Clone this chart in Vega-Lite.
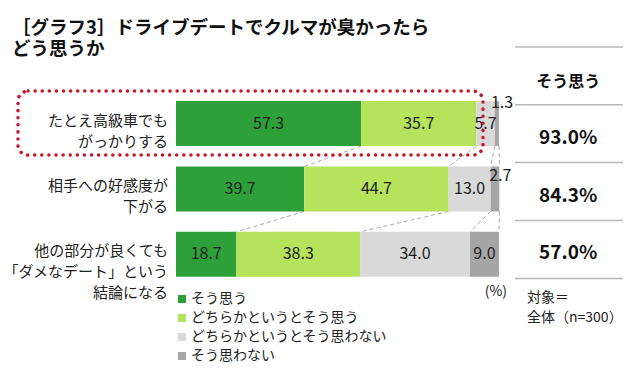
{
  "$schema": "https://vega.github.io/schema/vega-lite/v6.json",
  "width": 640,
  "height": 317,
  "autosize": "none",
  "padding": {"left": 0, "top": 60, "right": 0, "bottom": 0},
  "background": "white",
  "config": {"view": {"stroke": null}, "font": "Noto Sans CJK JP", "text": {"font": "Noto Sans CJK JP"}},
  "title": {
    "text": ["［グラフ3］ドライブデートでクルマが臭かったら", "どう思うか"],
    "anchor": "start", "frame": "group", "fontSize": 18.5, "font": "Noto Sans CJK JP",
    "fontWeight": "bold", "color": "#111111", "lineHeight": 21, "offset": -12, "dx": 12
  },
  "datasets": {
    "bars": [
      {"row": 1, "k": 1, "cat": "そう思う", "value": 57.3},
      {"row": 1, "k": 2, "cat": "どちらかというとそう思う", "value": 35.7},
      {"row": 1, "k": 3, "cat": "どちらかというとそう思わない", "value": 5.7},
      {"row": 1, "k": 4, "cat": "そう思わない", "value": 1.3},
      {"row": 2, "k": 1, "cat": "そう思う", "value": 39.7},
      {"row": 2, "k": 2, "cat": "どちらかというとそう思う", "value": 44.7},
      {"row": 2, "k": 3, "cat": "どちらかというとそう思わない", "value": 13.0},
      {"row": 2, "k": 4, "cat": "そう思わない", "value": 2.7},
      {"row": 3, "k": 1, "cat": "そう思う", "value": 18.7},
      {"row": 3, "k": 2, "cat": "どちらかというとそう思う", "value": 38.3},
      {"row": 3, "k": 3, "cat": "どちらかというとそう思わない", "value": 34.0},
      {"row": 3, "k": 4, "cat": "そう思わない", "value": 9.0}
    ],
    "items": [
      {"row": 1, "label": "たとえ高級車でも\nがっかりする"},
      {"row": 2, "label": "相手への好感度が\n下がる"},
      {"row": 3, "label": "他の部分が良くても\n「ダメなデート」という\n結論になる"}
    ],
    "conn": [
      {"r": 1, "r2": 2, "a": 57.3, "b": 39.7},
      {"r": 1, "r2": 2, "a": 93.0, "b": 84.4},
      {"r": 1, "r2": 2, "a": 98.7, "b": 97.4},
      {"r": 1, "r2": 2, "a": 100.0, "b": 100.1},
      {"r": 2, "r2": 3, "a": 39.7, "b": 18.7},
      {"r": 2, "r2": 3, "a": 84.4, "b": 57.0},
      {"r": 2, "r2": 3, "a": 97.4, "b": 91.0},
      {"r": 2, "r2": 3, "a": 100.1, "b": 100.0}
    ],
    "tbl": [
      {"slot": 1, "t": "そう思う"},
      {"slot": 2, "t": "93.0%"},
      {"slot": 3, "t": "84.3%"},
      {"slot": 4, "t": "57.0%"}
    ]
  },
  "layer": [
    {
      "layer": [
        {
          "data": {"name": "conn"},
          "mark": {"type": "rule", "strokeDash": [4, 3], "color": "#aaaaaa", "strokeWidth": 1, "yOffset": 22.5, "y2Offset": -22.5},
          "encoding": {
            "x": {"field": "a", "type": "quantitative", "scale": {"domain": [-54.49, 143.65], "nice": false, "zero": false}, "axis": null},
            "x2": {"field": "b"},
            "y": {"field": "r", "type": "quantitative", "scale": {"domain": [0.104, 4.8], "reverse": true, "nice": false, "zero": false}, "axis": null},
            "y2": {"field": "r2"}
          }
        },
        {
          "data": {"name": "bars"},
          "mark": {"type": "bar", "orient": "horizontal", "size": 45},
          "encoding": {
            "y": {"field": "row", "type": "quantitative", "scale": {"domain": [0.104, 4.8], "reverse": true, "nice": false, "zero": false}, "axis": null},
            "x": {"field": "value", "type": "quantitative", "stack": "zero", "scale": {"domain": [-54.49, 143.65], "nice": false, "zero": false}, "axis": null},
            "order": {"field": "k", "type": "quantitative"},
            "color": {
              "field": "cat", "type": "nominal",
              "scale": {"domain": ["そう思う", "どちらかというとそう思う", "どちらかというとそう思わない", "そう思わない"], "range": ["#2ea03a", "#b5e35c", "#d9d9d9", "#a6a6a6"]},
              "legend": {"orient": "none", "legendX": 175, "legendY": 232, "title": null, "symbolType": "square", "symbolSize": 64, "symbolStrokeWidth": 0, "labelFontSize": 14, "labelFont": "Noto Sans CJK JP", "labelColor": "#222222", "labelLimit": 400, "rowPadding": 5, "labelOffset": 2, "direction": "vertical"}
            }
          }
        },
        {
          "data": {"name": "bars"},
          "mark": {"type": "text", "fontSize": 16, "color": "#222222"},
          "encoding": {
            "y": {"field": "row", "type": "quantitative", "scale": {"domain": [0.104, 4.8], "reverse": true, "nice": false, "zero": false}, "axis": null},
            "x": {"field": "value", "type": "quantitative", "stack": "zero", "bandPosition": 0.5, "scale": {"domain": [-54.49, 143.65], "nice": false, "zero": false}, "axis": null},
            "order": {"field": "k", "type": "quantitative"},
            "text": {"condition": {"test": "datum.k == 4 && datum.row < 3", "value": ""}, "field": "value", "type": "quantitative", "format": ".1f"}
          }
        },
        {
          "data": {"name": "bars"},
          "transform": [
            {"stack": "value", "groupby": ["row"], "sort": [{"field": "k"}], "as": ["v0", "v1"]},
            {"filter": "datum.row == 1 && datum.k == 4"}
          ],
          "mark": {"type": "text", "fontSize": 16, "color": "#222222", "dx": 3, "dy": -21},
          "encoding": {
            "y": {"field": "row", "type": "quantitative", "scale": {"domain": [0.104, 4.8], "reverse": true, "nice": false, "zero": false}, "axis": null},
            "x": {"field": "v1", "type": "quantitative", "scale": {"domain": [-54.49, 143.65], "nice": false, "zero": false}, "axis": null},
            "text": {"field": "value", "type": "quantitative", "format": ".1f"}
          }
        },
        {
          "data": {"name": "bars"},
          "transform": [
            {"stack": "value", "groupby": ["row"], "sort": [{"field": "k"}], "as": ["v0", "v1"]},
            {"filter": "datum.row == 2 && datum.k == 4"}
          ],
          "mark": {"type": "text", "fontSize": 16, "color": "#222222", "dx": 1, "dy": -13},
          "encoding": {
            "y": {"field": "row", "type": "quantitative", "scale": {"domain": [0.104, 4.8], "reverse": true, "nice": false, "zero": false}, "axis": null},
            "x": {"field": "v1", "type": "quantitative", "scale": {"domain": [-54.49, 143.65], "nice": false, "zero": false}, "axis": null},
            "text": {"field": "value", "type": "quantitative", "format": ".1f"}
          }
        },
        {
          "data": {"name": "items"},
          "mark": {"type": "text", "fontSize": 15, "color": "#222222", "align": "right", "baseline": "middle", "lineBreak": "\n", "lineHeight": 21, "dx": -8, "dy": -3},
          "encoding": {
            "y": {"field": "row", "type": "quantitative", "scale": {"domain": [0.104, 4.8], "reverse": true, "nice": false, "zero": false}, "axis": null},
            "x": {"datum": 0, "type": "quantitative", "scale": {"domain": [-54.49, 143.65], "nice": false, "zero": false}, "axis": null},
            "text": {"field": "label", "type": "nominal"}
          }
        },
        {
          "data": {"values": [{"t": "(%)"}]},
          "mark": {"type": "text", "fontSize": 14, "color": "#222222", "align": "right", "baseline": "middle", "dy": 38},
          "encoding": {
            "y": {"datum": 3, "type": "quantitative", "scale": {"domain": [0.104, 4.8], "reverse": true, "nice": false, "zero": false}, "axis": null},
            "x": {"datum": 102.5, "type": "quantitative", "scale": {"domain": [-54.49, 143.65], "nice": false, "zero": false}, "axis": null},
            "text": {"field": "t", "type": "nominal"}
          }
        },
        {
          "data": {"values": [{"t": "outline"}]},
          "mark": {"type": "rect", "fill": null, "fillOpacity": 0, "stroke": "#c4162f", "strokeWidth": 3.5, "strokeDash": [0.1, 7], "strokeCap": "round", "cornerRadius": 10, "yOffset": -32.5, "y2Offset": 31.5},
          "encoding": {
            "y": {"datum": 1, "type": "quantitative", "scale": {"domain": [0.104, 4.8], "reverse": true, "nice": false, "zero": false}, "axis": null},
            "y2": {"datum": 1},
            "x": {"datum": -48.92, "type": "quantitative", "scale": {"domain": [-54.49, 143.65], "nice": false, "zero": false}, "axis": null},
            "x2": {"datum": 95.05}
          }
        }
      ]
    },
    {
      "layer": [
        {
          "data": {"name": "tbl"},
          "mark": {"type": "rule", "color": "#b8b8b8", "strokeWidth": 1.5, "yOffset": -29},
          "encoding": {
            "y": {"field": "slot", "type": "quantitative", "scale": {"domain": [0.723, 6.208], "reverse": true, "nice": false, "zero": false}, "axis": null},
            "x": {"datum": 104.95, "type": "quantitative", "scale": {"domain": [-54.49, 143.65], "nice": false, "zero": false}, "axis": null},
            "x2": {"datum": 138.39}
          }
        },
        {
          "data": {"name": "tbl"},
          "transform": [{"filter": "datum.slot == 4"}],
          "mark": {"type": "rule", "color": "#b8b8b8", "strokeWidth": 1.5, "yOffset": 29},
          "encoding": {
            "y": {"field": "slot", "type": "quantitative", "scale": {"domain": [0.723, 6.208], "reverse": true, "nice": false, "zero": false}, "axis": null},
            "x": {"datum": 104.95, "type": "quantitative", "scale": {"domain": [-54.49, 143.65], "nice": false, "zero": false}, "axis": null},
            "x2": {"datum": 138.39}
          }
        },
        {
          "data": {"name": "tbl"},
          "transform": [{"filter": "datum.slot == 1"}],
          "mark": {"type": "text", "fontSize": 16, "fontWeight": "bold", "color": "#111111", "dy": 6},
          "encoding": {
            "y": {"field": "slot", "type": "quantitative", "scale": {"domain": [0.723, 6.208], "reverse": true, "nice": false, "zero": false}, "axis": null},
            "x": {"datum": 121.4, "type": "quantitative", "scale": {"domain": [-54.49, 143.65], "nice": false, "zero": false}, "axis": null},
            "text": {"field": "t", "type": "nominal"}
          }
        },
        {
          "data": {"name": "tbl"},
          "transform": [{"filter": "datum.slot > 1"}],
          "mark": {"type": "text", "fontSize": 19, "fontWeight": "bold", "color": "#111111", "dy": 4},
          "encoding": {
            "y": {"field": "slot", "type": "quantitative", "scale": {"domain": [0.723, 6.208], "reverse": true, "nice": false, "zero": false}, "axis": null},
            "x": {"datum": 121.4, "type": "quantitative", "scale": {"domain": [-54.49, 143.65], "nice": false, "zero": false}, "axis": null},
            "text": {"field": "t", "type": "nominal"}
          }
        },
        {
          "data": {"values": [{"t": "対象＝\n全体（n=300）"}]},
          "mark": {"type": "text", "fontSize": 14, "color": "#222222", "align": "left", "baseline": "middle", "lineBreak": "\n", "lineHeight": 20, "dy": 49},
          "encoding": {
            "y": {"datum": 4, "type": "quantitative", "scale": {"domain": [0.723, 6.208], "reverse": true, "nice": false, "zero": false}, "axis": null},
            "x": {"datum": 108.67, "type": "quantitative", "scale": {"domain": [-54.49, 143.65], "nice": false, "zero": false}, "axis": null},
            "text": {"field": "t", "type": "nominal"}
          }
        }
      ]
    }
  ],
  "resolve": {"scale": {"y": "independent"}}
}
